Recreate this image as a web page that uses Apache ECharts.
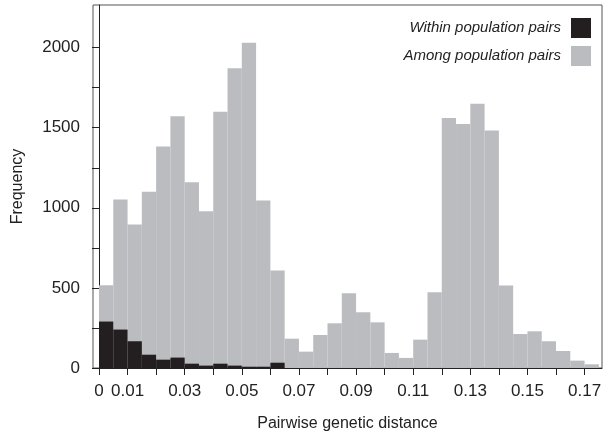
<!DOCTYPE html>
<html>
<head>
<meta charset="utf-8">
<script src="https://cdn.jsdelivr.net/npm/echarts@6/dist/echarts.min.js"></script>
<style>
  html, body { margin: 0; padding: 0; background: #fff; }
  #chart { width: 605px; height: 438px; }
</style>
</head>
<body>
<div id="chart"></div>
<script>
// histogram bins, width 0.005 starting at 0
const binWidth = 0.005
const amongCounts = [517, 1052, 896, 1100, 1383, 1571, 1160, 979, 1600, 1871, 2031, 1046, 608, 183, 102, 206, 279, 467,
  348, 285, 94, 63, 177, 473, 1560, 1523, 1650, 1483, 515, 212, 229, 167, 106, 46, 23]
const withinCounts = [290, 240, 167, 83, 52, 65, 27, 15, 27, 15, 8, 8, 33]

const xTicks = [0, 0.01, 0.02, 0.03, 0.04, 0.05, 0.06, 0.07, 0.08, 0.09, 0.1, 0.11, 0.12, 0.13, 0.14, 0.15, 0.16, 0.17]
const xLabels = [0, 0.01, 0.03, 0.05, 0.07, 0.09, 0.11, 0.13, 0.15, 0.17]
const yTicks = [0, 250, 500, 750, 1000, 1250, 1500, 1750, 2000]
const yLabels = [0, 500, 1000, 1500, 2000]

const font = 'Liberation Sans, Arial, sans-serif'

/**
 * 把计数转成 [起点, 终点, 频数]
 */
const toBins = counts => counts.map((c, i) => [i * binWidth, (i + 1) * binWidth, c])

const renderItem = (params, api) => {
  const p0 = api.coord([api.value(0), 0])
  const p1 = api.coord([api.value(1), api.value(2)])
  return {
    type: 'rect',
    shape: { x: p0[0], y: p1[1], width: p1[0] - p0[0], height: p0[1] - p1[1] },
    style: api.style()
  }
}

const chart = echarts.init(document.getElementById('chart'), null, { renderer: 'canvas' })

chart.setOption({
  animation: false,
  textStyle: { fontFamily: font },
  grid: {
    left: 93, right: 3, top: 5, bottom: 70,
    show: true, borderColor: '#555', borderWidth: 1
  },
  legend: {
    orient: 'vertical',
    right: 14,
    top: 18,
    padding: 0,
    itemWidth: 20,
    itemHeight: 20,
    itemGap: 8,
    align: 'right',
    selectedMode: false,
    textStyle: { fontFamily: font, fontStyle: 'italic', fontSize: 15, color: '#222', padding: [0, 5, 0, 0] },
    data: [
      { name: 'Within population pairs', icon: 'rect' },
      { name: 'Among population pairs', icon: 'rect' }
    ]
  },
  xAxis: {
    type: 'value',
    min: -0.0021,
    max: 0.1761,
    name: 'Pairwise genetic distance',
    nameLocation: 'middle',
    nameGap: 48,
    nameTextStyle: { fontFamily: font, fontSize: 16, color: '#222' },
    axisLine: { lineStyle: { color: '#222', width: 1 } },
    axisTick: { length: 7, lineStyle: { color: '#222' }, customValues: xTicks },
    axisLabel: {
      fontFamily: font, fontSize: 17, color: '#222', margin: 15,
      customValues: xLabels,
      formatter: v => (v === 0 ? '0' : v.toFixed(2))
    },
    splitLine: { show: false }
  },
  yAxis: {
    type: 'value',
    min: 0,
    max: 2266,
    name: 'Frequency',
    nameLocation: 'middle',
    nameGap: 67,
    nameTextStyle: { fontFamily: font, fontSize: 16, color: '#222' },
    axisLine: { show: true, lineStyle: { color: '#222', width: 1 } },
    axisTick: { show: true, length: 7, lineStyle: { color: '#222' }, customValues: yTicks },
    axisLabel: {
      fontFamily: font, fontSize: 17, color: '#222', margin: 13,
      customValues: yLabels,
      formatter: v => String(v)
    },
    splitLine: { show: false }
  },
  series: [
    {
      name: 'Among population pairs',
      type: 'custom',
      renderItem,
      itemStyle: { color: '#bbbcc0' },
      encode: { x: [0, 1], y: 2 },
      data: toBins(amongCounts),
      z: 1
    },
    {
      name: 'Within population pairs',
      type: 'custom',
      renderItem,
      itemStyle: { color: '#231f20' },
      encode: { x: [0, 1], y: 2 },
      data: toBins(withinCounts),
      z: 2
    }
  ]
})
</script>
</body>
</html>
